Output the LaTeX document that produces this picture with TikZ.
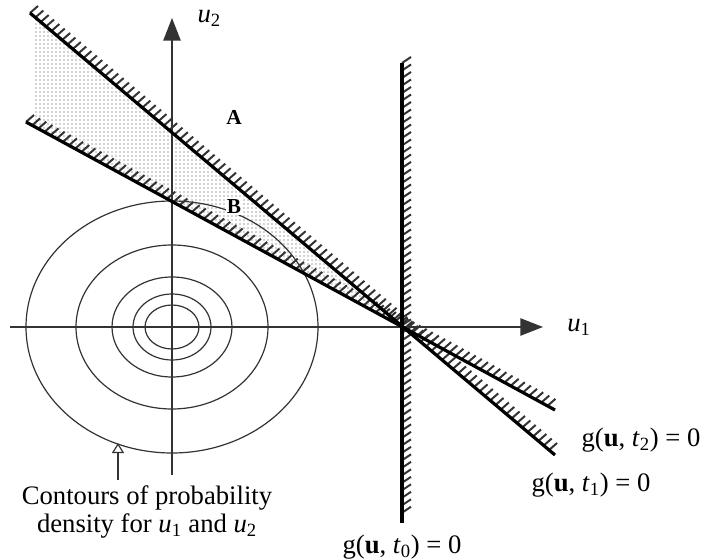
\documentclass[tikz,border=0pt]{standalone}
\usepackage{fontspec}
\setmainfont{Liberation Serif}
\usetikzlibrary{arrows.meta, positioning, calc, patterns}

\begin{document}
\begin{tikzpicture}[
    x=0.75pt, y=-0.75pt,
    axis/.style={-{Triangle[length=17pt, width=13pt]}, line width=1.1pt, black!80},
    limit/.style={line width=2.4pt, black},
    hatch/.style={line width=1.5pt, black!80},
    contour/.style={line width=0.9pt, black!80},
    lbl/.style={font=\fontsize{20}{21}\selectfont, inner sep=1pt},
    region/.style={font=\bfseries\fontsize{16}{18}\selectfont, inner sep=0.5pt}
]
\useasboundingbox (0,0) rectangle (704,560);

% Points
\coordinate (O) at (172,327);
\coordinate (P) at (403,327);
\coordinate (u1s) at (10,327);
\coordinate (u1e) at (543,327);
\coordinate (u2s) at (172,475);
\coordinate (u2e) at (172,18);
\coordinate (t0a) at (402,63);
\coordinate (t0b) at (402,523);
\coordinate (t1a) at (30,13);
\coordinate (t1b) at (555,455);
\coordinate (t2a) at (26,122);
\coordinate (t2b) at (555,410);

% Failure region between the two lines
\fill[pattern=dots, pattern color=black!75] (33,15.5) -- (P) -- (33,125.8) -- cycle;

% Contours
\foreach \rx/\ry in {146/126, 96/82, 60/50, 39/33, 27/22}
    \draw[contour] (O) ellipse [x radius=\rx, y radius=\ry];

% Axes
\draw[axis] (u1s) -- (u1e);
\draw[axis] (u2s) -- (u2e);
\node[lbl, right=17pt of u1e] (u1) {\textit{u}\textsubscript{1}};
\node[lbl, right=18pt of u2e] (u2) {\textit{u}\textsubscript{2}};

% Limit states
\foreach \s in {0,0.0102,...,0.99}
    \draw[hatch] ($(t1a)!\s!(t1b)$) -- ++(8,-7);
\foreach \s in {0,0.0116,...,0.99}
    \draw[hatch] ($(t2a)!\s!(t2b)$) -- ++(8,-7);
\foreach \s in {0,0.0163,...,0.985}
    \draw[hatch] ($(t0a)!\s!(t0b)$) -- ++(9,-6);
\draw[limit] (t0a) -- (t0b);
\draw[limit] (t1a) -- (t1b);
\draw[limit] (t2a) -- (t2b);

\node[lbl, below=8pt of t0b] (g0) {g(\textbf{u}, \textit{t}\textsubscript{0}) = 0};
\node[lbl] (g1) at (591,485) {g(\textbf{u}, \textit{t}\textsubscript{1}) = 0};
\node[lbl] (g2) at (641,440) {g(\textbf{u}, \textit{t}\textsubscript{2}) = 0};

\node[region] (A) at (234,117) {A};
\node[region, fill=white] (B) at (234,207) {B};

% Caption of the contours
\node[lbl, align=center] (caption) at (147,512) {Contours of probability\\density for \textit{u}\textsubscript{1} and \textit{u}\textsubscript{2}};
\coordinate (tip) at (118,443);
\coordinate (tail) at (118,480);
\draw[-{Triangle[open, length=7.5pt, width=9pt]}, contour] (tail) -- (tip);
\end{tikzpicture}
\end{document}
